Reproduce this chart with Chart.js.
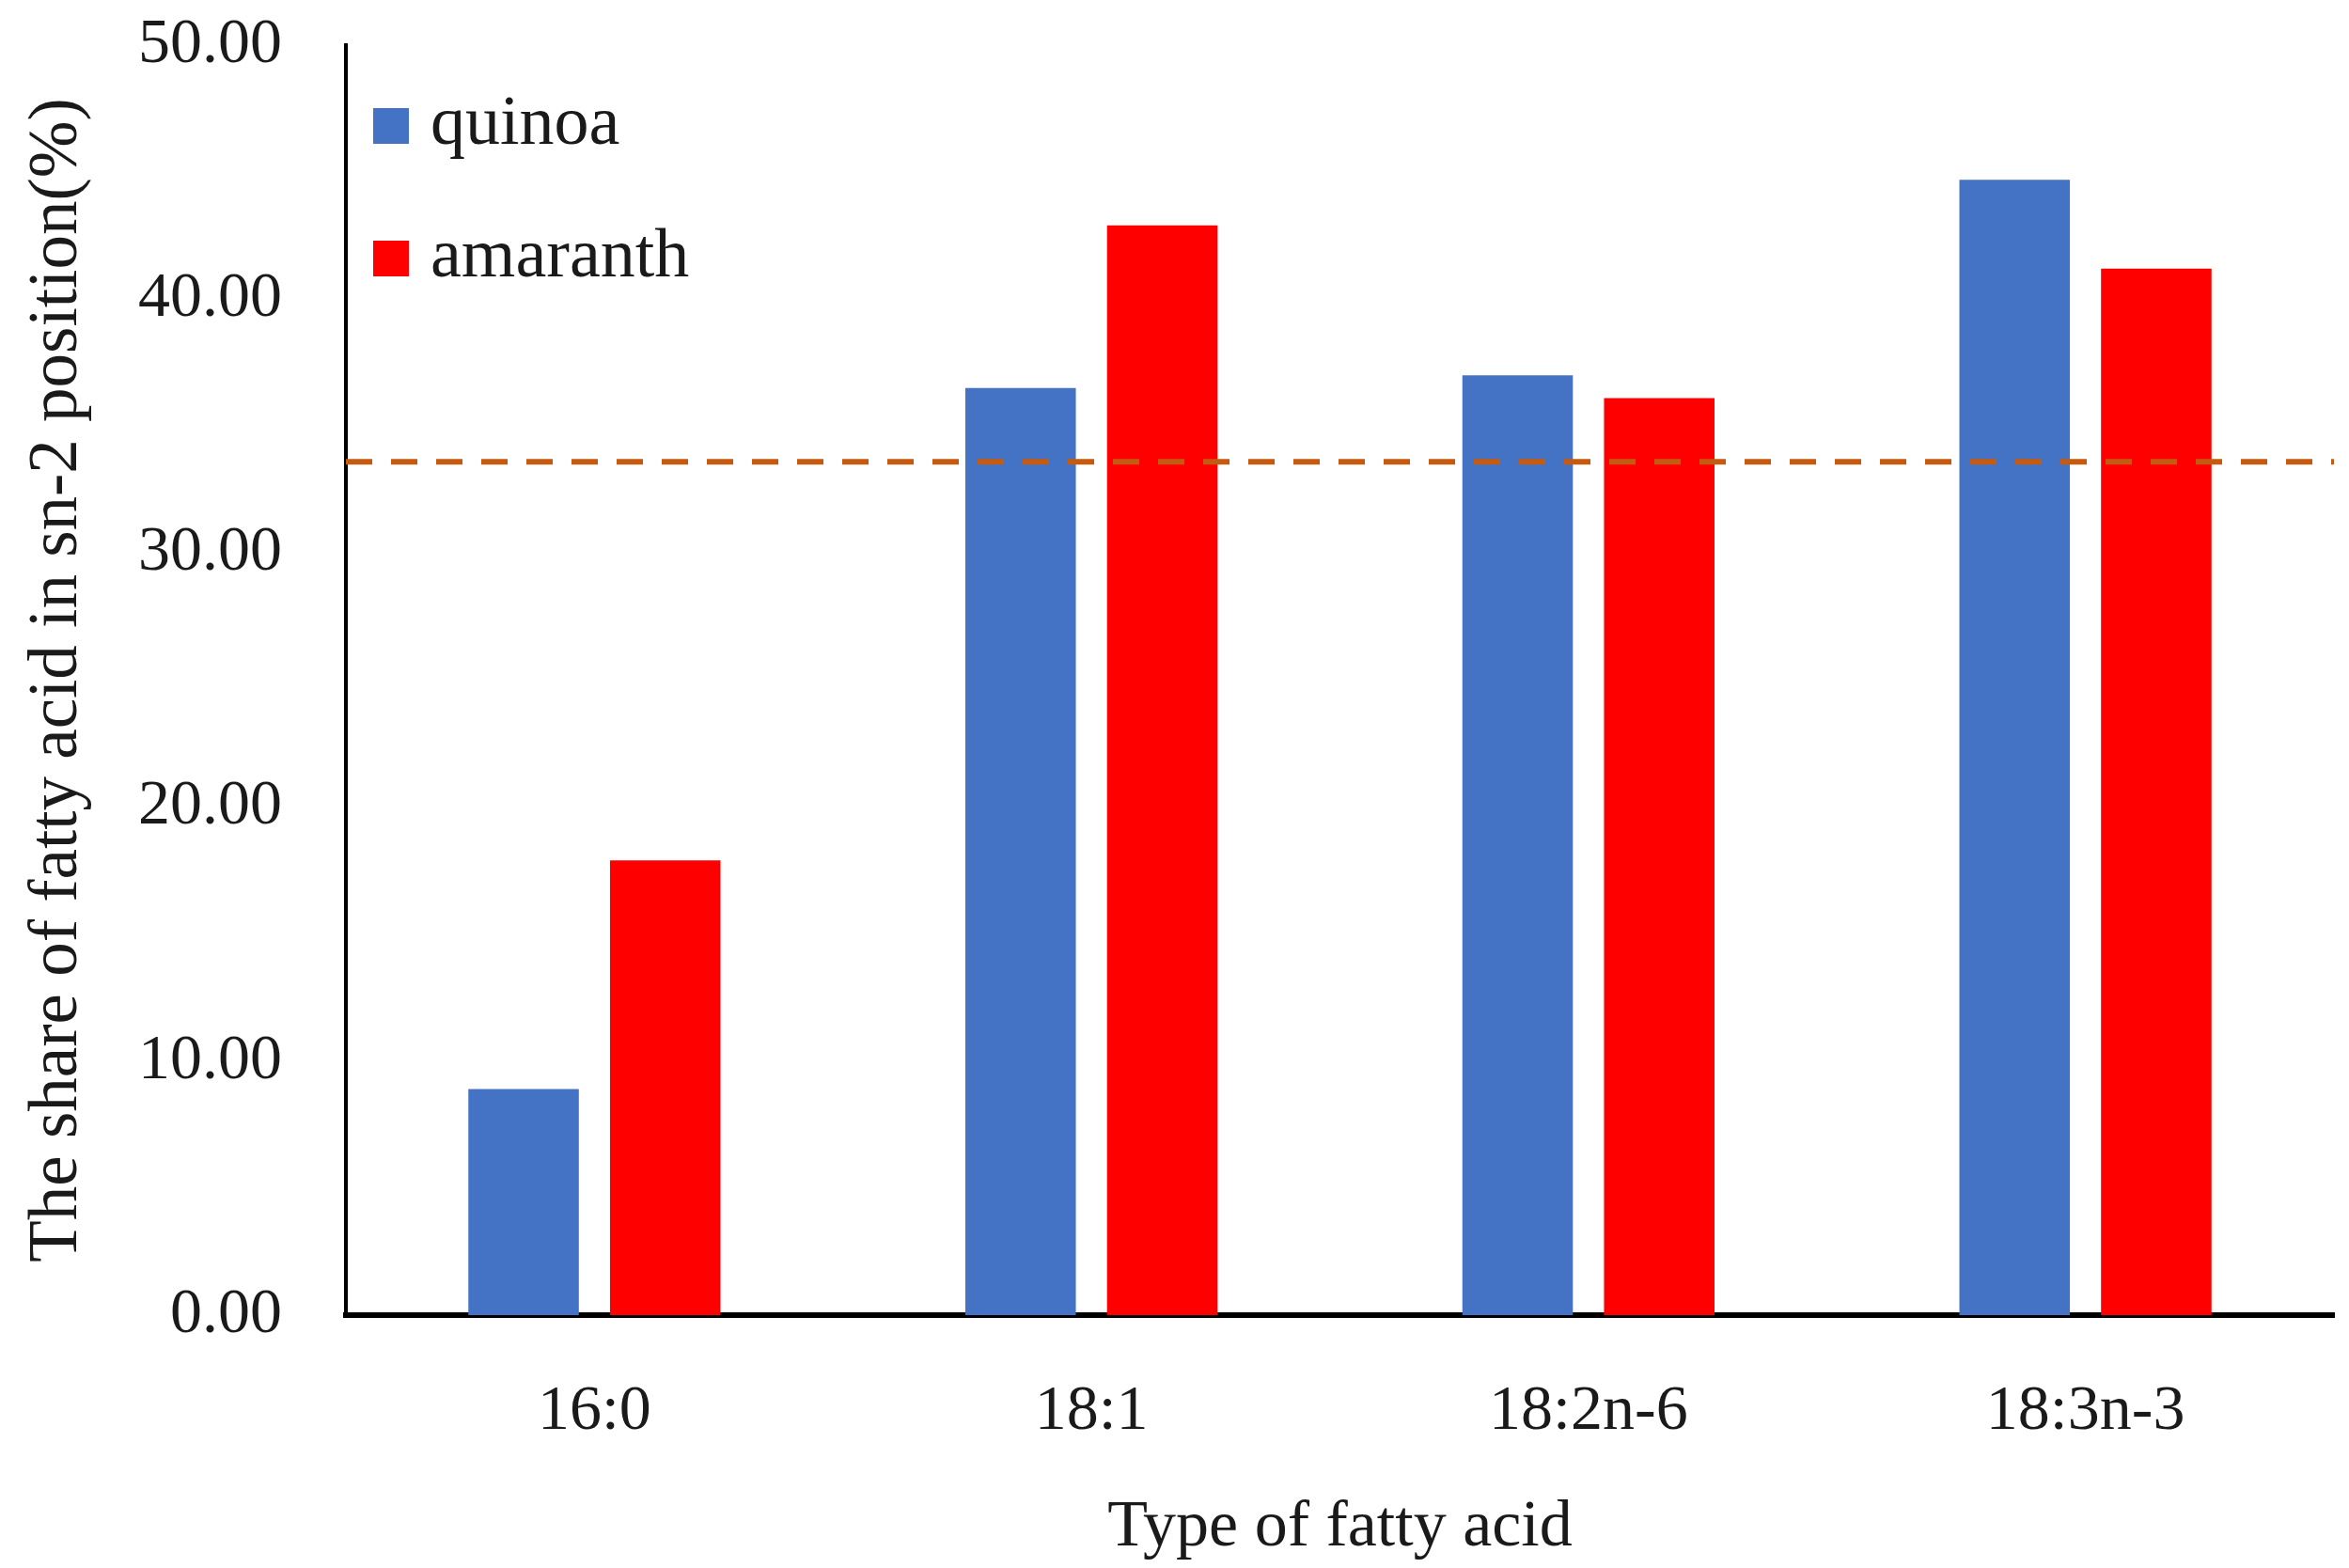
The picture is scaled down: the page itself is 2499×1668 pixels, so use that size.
<!DOCTYPE html>
<html>
<head>
<meta charset="utf-8">
<script src="https://cdn.jsdelivr.net/npm/chart.js@4/dist/chart.umd.min.js"></script>
<style>
  html, body { margin: 0; padding: 0; background: #fff; }
  #chart { display: block; }
</style>
</head>
<body>
<canvas id="chart" width="2499" height="1668"></canvas>
<script>
const categories = ["16:0", "18:1", "18:2n-6", "18:3n-3"];
const quinoa = [8.9, 36.5, 37.0, 44.7];
const amaranth = [17.9, 42.9, 36.1, 41.2];
const refLine = 33.6;
const yTicks = [0, 10, 20, 30, 40, 50];

const FONT = "'Liberation Serif', 'Times New Roman', serif";
const TEXT = "#1a1a1a";

// Dashed reference line across the whole plot area
const refLinePlugin = {
  id: "refLine",
  afterDatasetsDraw(chart) {
    const { ctx, chartArea, scales } = chart;
    const y = scales.y.getPixelForValue(refLine);
    ctx.save();
    ctx.strokeStyle = "#C55A11";
    ctx.lineWidth = 6;
    ctx.setLineDash([28, 20]);
    ctx.beginPath();
    ctx.moveTo(chartArea.left, y);
    ctx.lineTo(chartArea.right, y);
    ctx.stroke();
    ctx.restore();
  },
};

// Legend stacked in the top-left corner of the plot
const legendPlugin = {
  id: "cornerLegend",
  afterDraw(chart) {
    const ctx = chart.ctx;
    ctx.save();
    chart.data.datasets.forEach((ds, i) => {
      const cy = 134 + i * 141;
      ctx.fillStyle = ds.backgroundColor;
      ctx.fillRect(397, cy - 19, 38, 38);
      ctx.fillStyle = TEXT;
      ctx.font = "74px " + FONT;
      ctx.textBaseline = "middle";
      ctx.fillText(ds.label, 458, cy);
    });
    ctx.restore();
  },
};

new Chart(document.getElementById("chart"), {
  type: "bar",
  data: {
    labels: categories,
    datasets: [
      { label: "quinoa", data: quinoa, backgroundColor: "#4472C4" },
      { label: "amaranth", data: amaranth, backgroundColor: "#FF0000" },
    ],
  },
  options: {
    responsive: false,
    devicePixelRatio: 1,
    animation: false,
    categoryPercentage: 0.57,
    barPercentage: 0.78,
    layout: { padding: { top: 48, right: 16, left: 0, bottom: 0 } },
    plugins: {
      legend: { display: false },
      tooltip: { enabled: false },
    },
    scales: {
      x: {
        grid: { display: false, drawTicks: false },
        border: { display: true, color: "#000", width: 6 },
        ticks: { color: TEXT, font: { family: FONT, size: 68 }, padding: 62 },
        title: {
          display: true,
          text: "Type of fatty acid",
          color: TEXT,
          font: { family: FONT, size: 70 },
          padding: { top: 20, bottom: 0 },
        },
        afterFit: (scale) => { scale.height = 269; },
      },
      y: {
        min: 0,
        max: 50,
        afterBuildTicks: (scale) => { scale.ticks = yTicks.map((v) => ({ value: v })); },
        grid: { display: false, drawTicks: false },
        border: { display: true, color: "#000", width: 4 },
        ticks: {
          color: TEXT,
          font: { family: FONT, size: 68 },
          padding: 68,
          callback: (v) => Number(v).toFixed(2),
        },
        title: {
          display: true,
          text: "The share of fatty acid in sn-2 position(%)",
          color: TEXT,
          font: { family: FONT, size: 73 },
          padding: { top: 18, bottom: 0 },
        },
        afterFit: (scale) => {
          scale.width = 368;
          scale.paddingTop = 0;
          scale.paddingBottom = 0;
        },
      },
    },
  },
  plugins: [refLinePlugin, legendPlugin],
});
</script>
</body>
</html>
